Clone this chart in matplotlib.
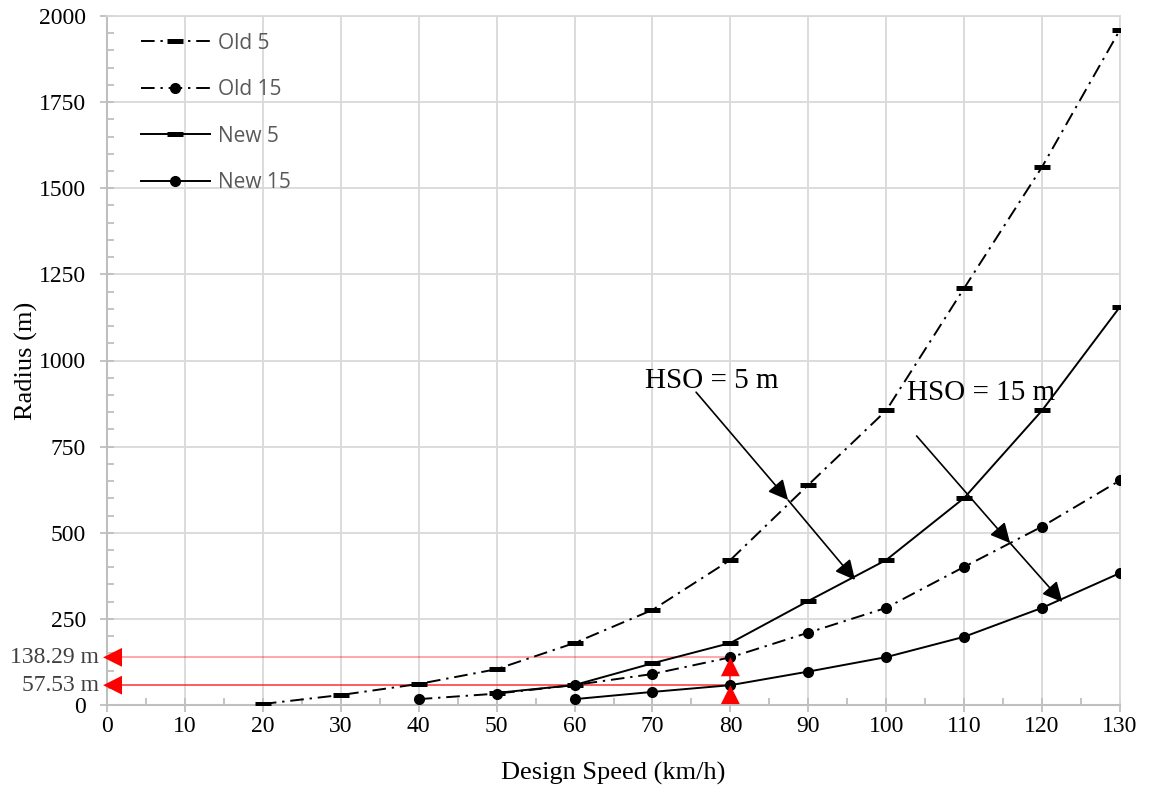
import matplotlib.pyplot as plt
from matplotlib.ticker import MultipleLocator

# values
old5_x = [20, 30, 40, 50, 60, 70, 80, 90, 100, 110, 120, 130]
old5_y = [3, 29, 61, 104, 180, 276, 421, 639, 855, 1210, 1562, 1960]
old15_x = [40, 50, 60, 70, 80, 90, 100, 110, 120, 130]
old15_y = [17, 33, 58, 90, 138.29, 210, 282, 401, 518, 652]
new5_x = [50, 60, 70, 80, 90, 100, 110, 120, 130]
new5_y = [35, 58, 121, 180, 302, 421, 601, 855, 1156]
new15_x = [60, 70, 80, 90, 100, 110, 120, 130]
new15_y = [17, 38, 57.53, 97, 139, 198, 282, 383]

serif = "Liberation Serif"
gray = "#bfbfbf"

fig = plt.figure(figsize=(11.54, 7.9), dpi=100)
ax = fig.add_axes([107 / 1154, 1 - 705 / 790, 1013 / 1154, 689 / 790])

dashdot = (0, (7, 3, 1.2, 3))
ax.plot(old5_x, old5_y, color="black", lw=1.4, ls=dashdot, marker="_", ms=11, mew=3.6, label="Old 5", zorder=3)
ax.plot(old15_x, old15_y, color="black", lw=1.4, ls=dashdot, marker="o", ms=7, label="Old 15", zorder=3)
ax.plot(new5_x, new5_y, color="black", lw=1.4, marker="_", ms=11, mew=3.6, label="New 5", zorder=3)
ax.plot(new15_x, new15_y, color="black", lw=1.4, marker="o", ms=7, label="New 15", zorder=3)

ax.set_xlim(0, 130)
ax.set_ylim(0, 2000)
ax.xaxis.set_major_locator(MultipleLocator(10))
ax.xaxis.set_minor_locator(MultipleLocator(5))
ax.yaxis.set_major_locator(MultipleLocator(250))
ax.yaxis.set_minor_locator(MultipleLocator(50))
ax.grid(True, which="major", color="#d9d9d9", lw=1.3, zorder=0)
ax.set_axisbelow(True)
for s in ["top", "right"]:
    ax.spines[s].set_color("#d9d9d9")
    ax.spines[s].set_linewidth(1.3)
for s in ["left", "bottom"]:
    ax.spines[s].set_color(gray)
    ax.spines[s].set_linewidth(1.5)
ax.tick_params(which="major", direction="inout", length=10, width=1.3, color=gray, labelsize=17)
ax.tick_params(axis="y", which="major", pad=10)
ax.tick_params(axis="x", which="major", pad=3)
ax.tick_params(which="minor", direction="in", length=5, width=1.3, color=gray)
for lab in ax.get_xticklabels() + ax.get_yticklabels():
    lab.set_fontfamily(serif)

ax.set_xlabel("Design Speed (km/h)", fontsize=19, family=serif, labelpad=18)
ax.set_ylabel("Radius (m)", fontsize=19, family=serif, labelpad=1)

leg = ax.legend(loc="upper left", frameon=False, labelspacing=1.22,
                handlelength=3.3, handletextpad=0.4, borderaxespad=0.4,
                bbox_to_anchor=(0.017, 1.0), prop={"family": "Open Sans", "size": 15})
for t in leg.get_texts():
    t.set_color("#595959")

# red guide lines at 80 km/h
ax.plot([0, 80], [138.29, 138.29], color="red", alpha=0.4, lw=1.2, zorder=2)
ax.plot([0, 80], [57.53, 57.53], color="red", alpha=0.75, lw=1.2, zorder=2)
head = dict(arrowstyle="-|>", color="red", lw=0, mutation_scale=34, shrinkA=0, shrinkB=0)
for yv in [138.29, 57.53]:
    ax.annotate("", xy=(-0.5, yv), xytext=(2.0, yv), arrowprops=head, annotation_clip=False, zorder=4)
    ax.text(-1.0, yv, f"{yv} m", ha="right", va="center", fontsize=17, family=serif, color="#404040")
ax.plot([80, 80], [0, 138.29], color="red", alpha=0.75, lw=1.2, zorder=2)
ax.annotate("", xy=(80, 57.53), xytext=(80, 10),
            arrowprops=head, zorder=4)
ax.annotate("", xy=(80, 138.29), xytext=(80, 90),
            arrowprops=head, zorder=4)

# HSO annotations
arr = dict(arrowstyle="-|>", color="black", lw=1.2, mutation_scale=30, shrinkA=0, shrinkB=0)
ax.text(69.0, 940, "HSO = 5 m", fontsize=21, family=serif, va="center", ha="left")
ax.annotate("", xy=(87.4, 595), xytext=(75.6, 908), arrowprops=arr)
ax.annotate("", xy=(96.0, 363), xytext=(87.4, 595), arrowprops=arr)
ax.text(102.7, 907, "HSO = 15 m", fontsize=21, family=serif, va="center", ha="left")
ax.annotate("", xy=(115.9, 470), xytext=(103.9, 781), arrowprops=arr)
ax.annotate("", xy=(122.6, 299), xytext=(115.9, 470), arrowprops=arr)

fig.savefig("out.png", dpi=100)
